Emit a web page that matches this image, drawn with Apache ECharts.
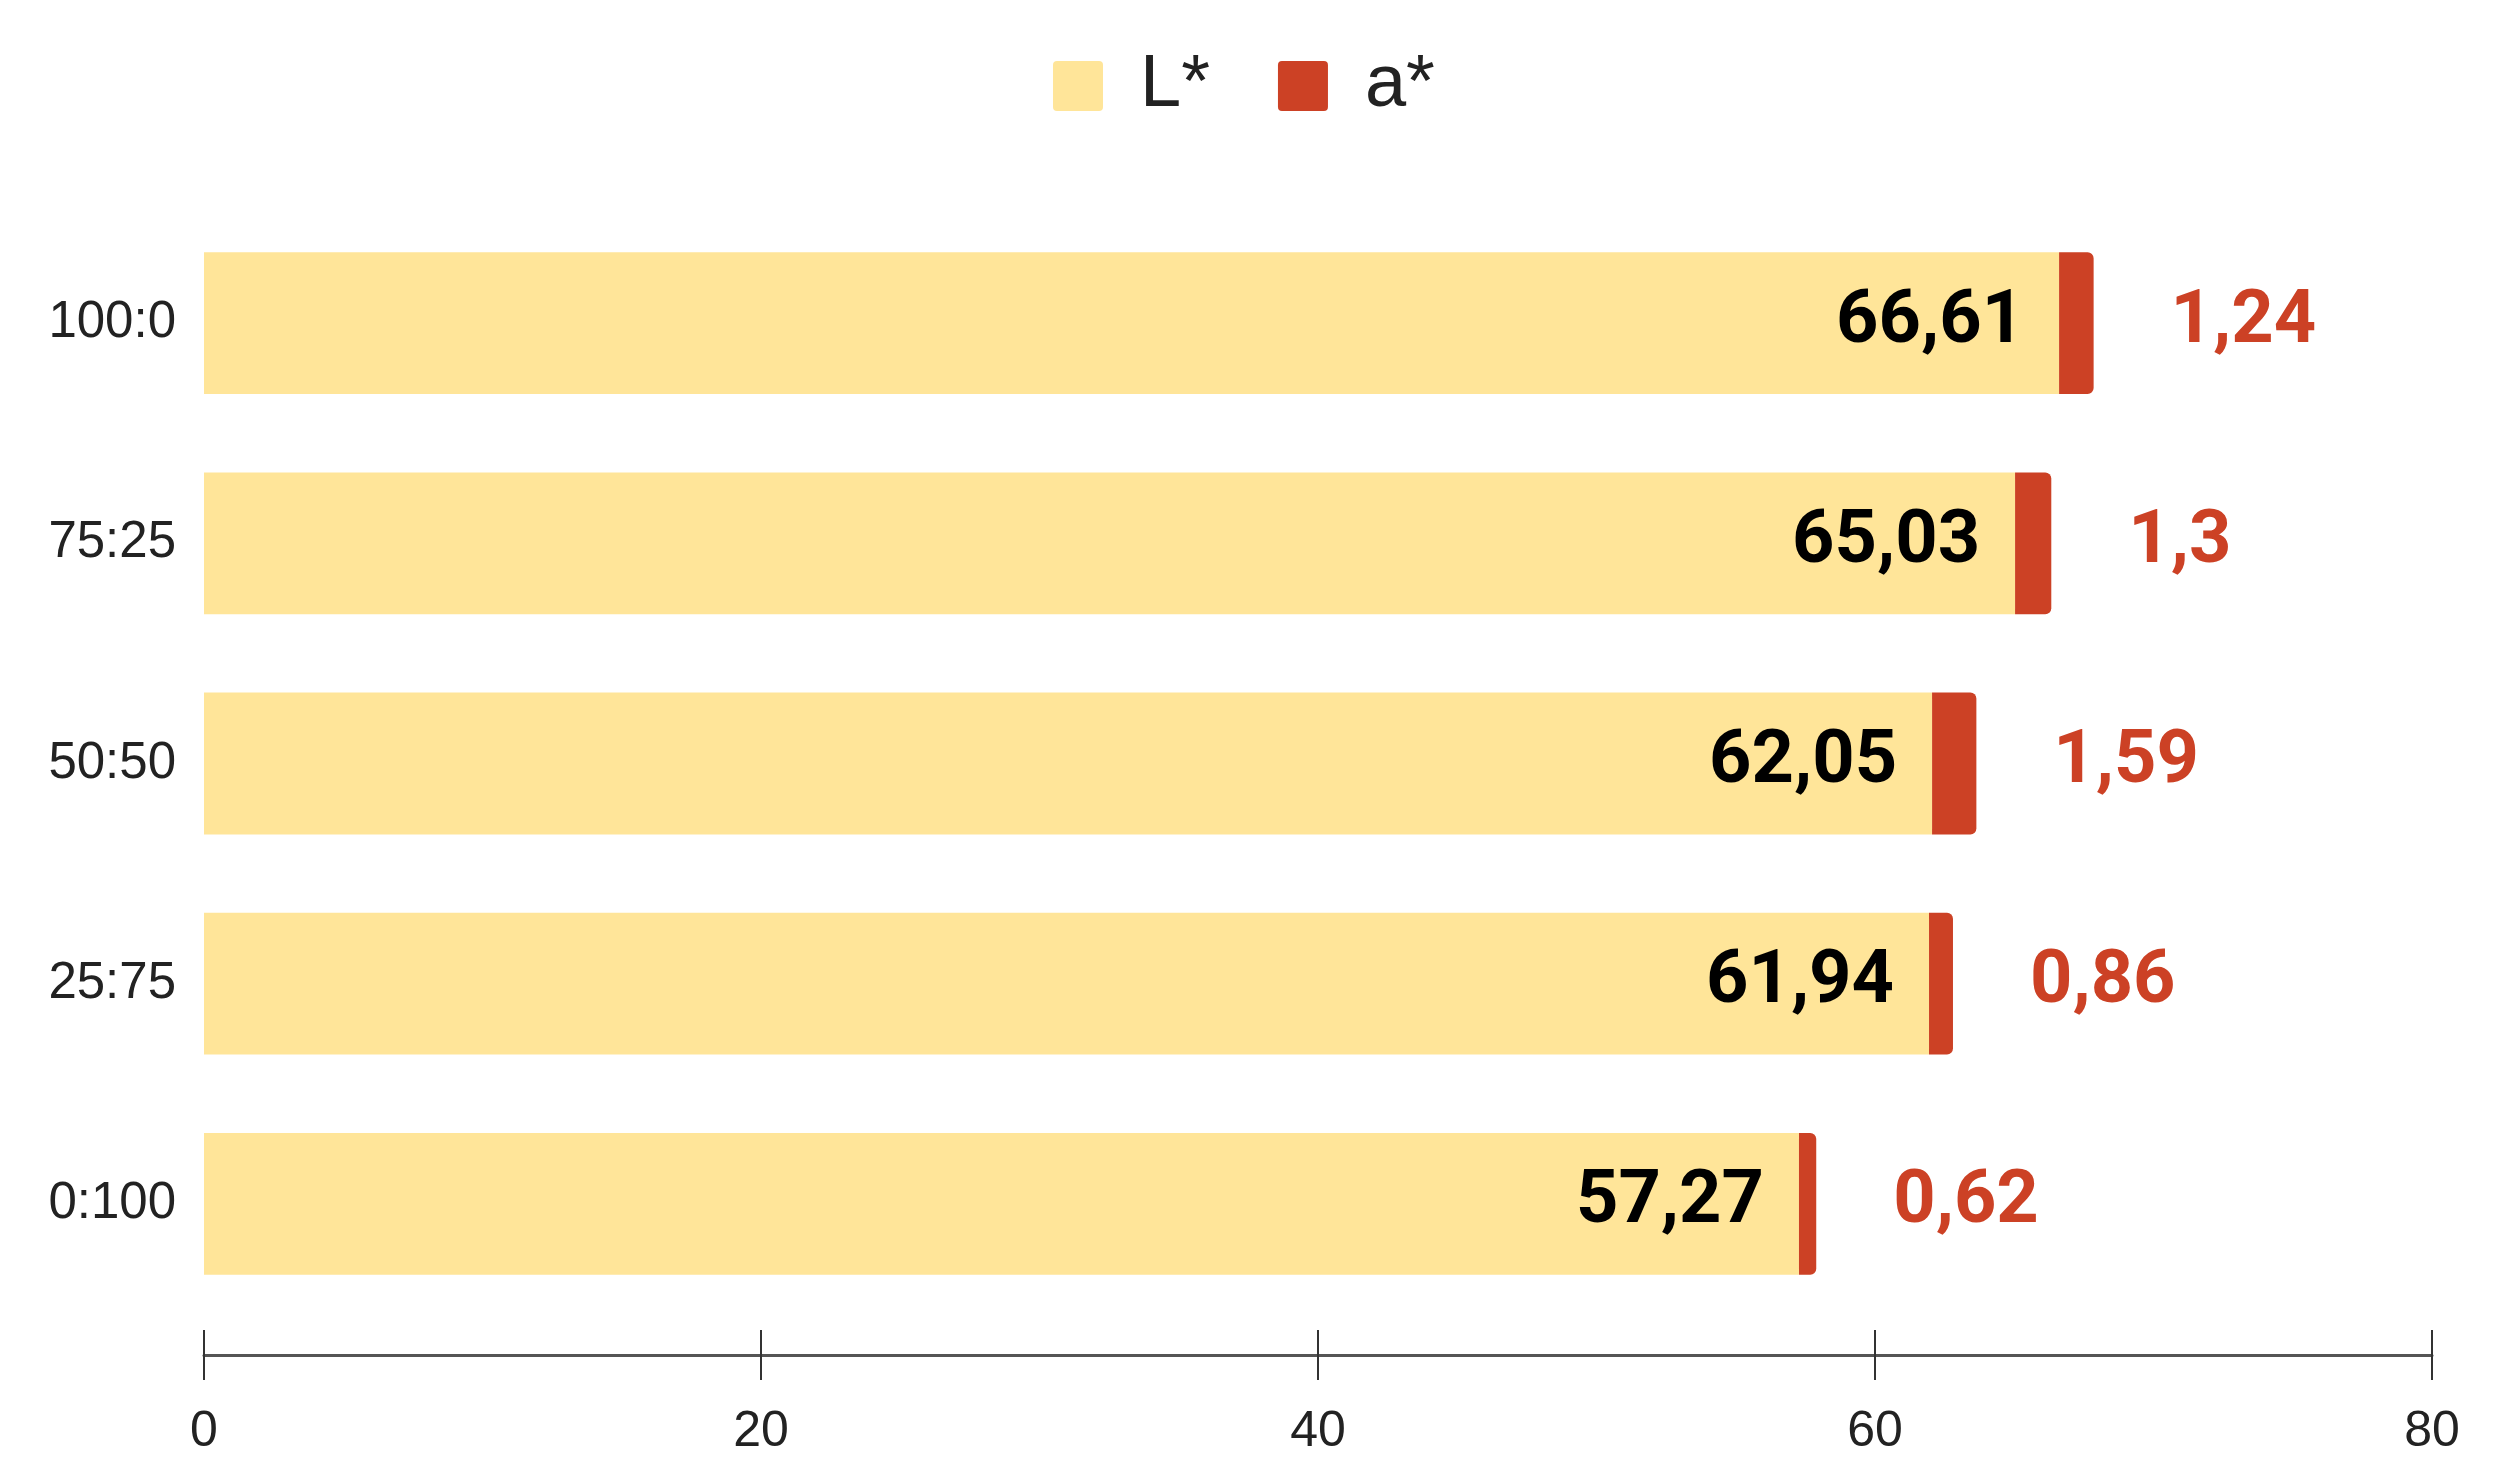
<!DOCTYPE html>
<html><head><meta charset="utf-8">
<script src="https://cdn.jsdelivr.net/npm/echarts@6/dist/echarts.min.js"></script>
<style>html,body{margin:0;padding:0;background:#fff}#c{width:2514px;height:1457px}</style>
</head><body><div id="c"></div>
<script>
const categories = ['100:0', '75:25', '50:50', '25:75', '0:100'];
const lValues = [66.61, 65.03, 62.05, 61.94, 57.27];
const aValues = [1.24, 1.3, 1.59, 0.86, 0.62];
const xTicks = [0, 20, 40, 60, 80];

const fmt = p => String(p.value).replace('.', ',');
const chart = echarts.init(document.getElementById('c'));
chart.setOption({
  animation: false,
  backgroundColor: '#fff',
  legend: {
    top: 44, left: 1048,
    itemWidth: 50, itemHeight: 50, itemGap: 68,
    icon: 'path://M4,0 H46 Q50,0 50,4 V46 Q50,50 46,50 H4 Q0,50 0,46 V4 Q0,0 4,0 Z',
    textStyle: { fontFamily: 'Liberation Sans', fontSize: 74, color: '#222', padding: [0, 0, 0, 32] },
    data: ['L*', 'a*']
  },
  grid: { left: 204, right: 82, top: 213, bottom: 134, containLabel: false },
  xAxis: [{
    type: 'value', min: xTicks[0], max: xTicks[xTicks.length - 1], interval: 20,
    position: 'bottom', offset: 41,
    axisLine: { show: true, lineStyle: { color: '#555', width: 3 } },
    axisTick: { show: true, length: 25, lineStyle: { color: '#333', width: 2 } },
    axisLabel: { margin: 52, fontFamily: 'Liberation Sans Narrow, Liberation Sans', fontSize: 50, color: '#222' },
    splitLine: { show: false }
  }, {
    type: 'value', min: xTicks[0], max: xTicks[xTicks.length - 1], interval: 20,
    position: 'bottom', offset: 41,
    axisLine: { show: false },
    axisTick: { show: true, inside: true, length: 25, lineStyle: { color: '#333', width: 2 } },
    axisLabel: { show: false },
    splitLine: { show: false }
  }],
  yAxis: {
    type: 'category', data: categories, inverse: true,
    axisLine: { show: false }, axisTick: { show: false },
    axisLabel: { margin: 28, fontFamily: 'Liberation Sans', fontSize: 51, color: '#222' }
  },
  series: [{
    name: 'L*', type: 'bar', stack: 's', data: lValues, barCategoryGap: '35.6%',
    itemStyle: { color: '#ffe599' },
    label: { show: true, position: 'insideRight', distance: 35, formatter: fmt,
      fontFamily: 'Roboto', fontWeight: 'bold', fontSize: 74, color: '#000' }
  }, {
    name: 'a*', type: 'bar', stack: 's', data: aValues,
    itemStyle: { color: '#cc4125', borderRadius: [0, 6, 6, 0] },
    label: { show: true, position: 'right', distance: 77, formatter: fmt,
      fontFamily: 'Roboto', fontWeight: 'bold', fontSize: 74, color: '#cc4125' }
  }]
});
</script></body></html>
